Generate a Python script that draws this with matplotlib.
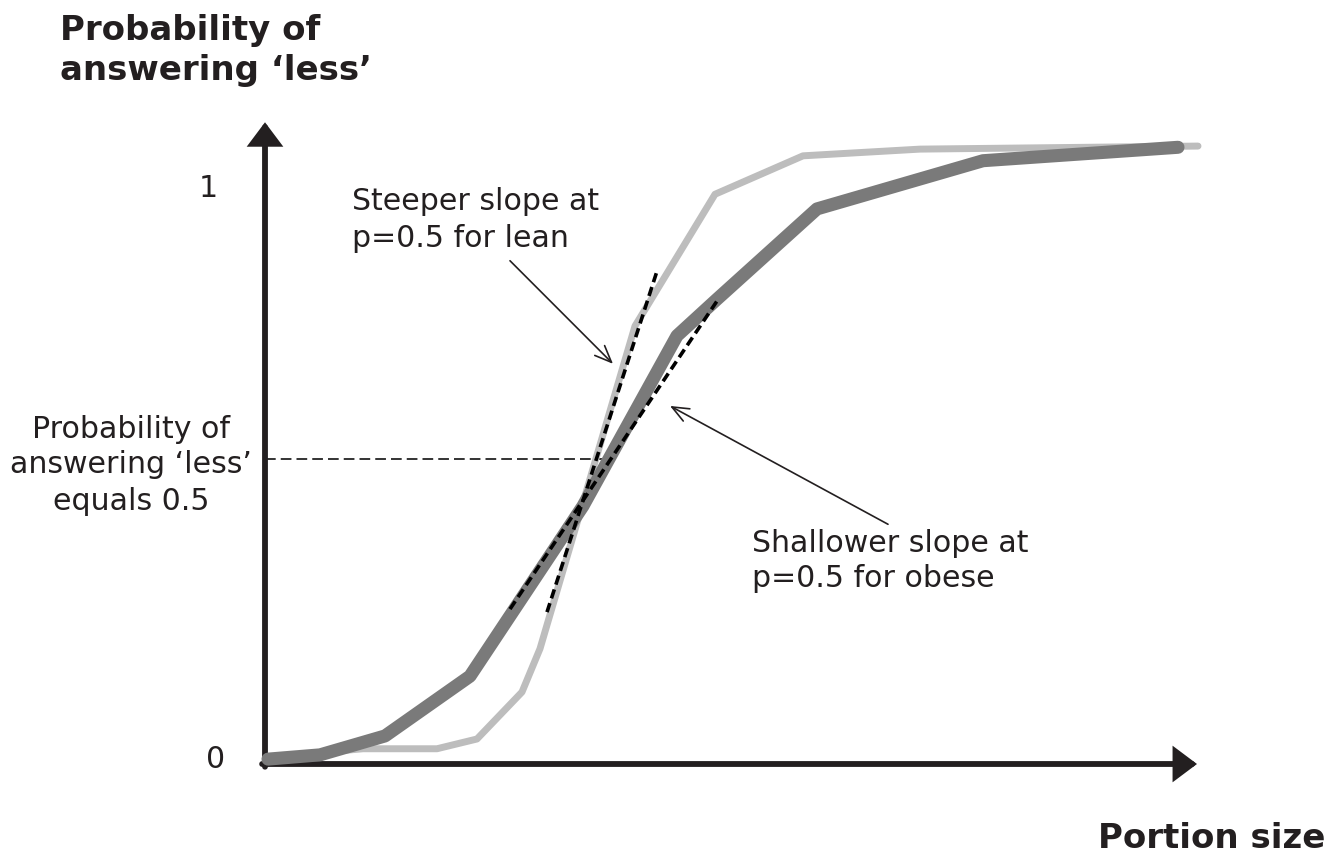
# 心理測定曲線の模式図 (lean / obese の傾きの比較)
import matplotlib.pyplot as plt

# ---- data (x = portion size in arbitrary units, y = probability) ----
LEAN_X = [0.03, 0.98, 1.72, 2.12, 2.57, 2.75, 3.70, 4.50, 5.38, 6.55, 9.33]
LEAN_Y = [0.011, 0.025, 0.025, 0.041, 0.118, 0.189, 0.718, 0.934, 0.997, 1.008, 1.013]

OBESE_X = [0.03, 0.55, 1.20, 2.05, 3.18, 4.12, 4.52, 5.52, 7.18, 9.13]
OBESE_Y = [0.008, 0.015, 0.046, 0.144, 0.423, 0.702, 0.762, 0.910, 0.989, 1.011]

# tangent lines at p=0.5
LEAN_TANGENT_X = [2.82, 3.92]
LEAN_TANGENT_Y = [0.249, 0.808]
OBESE_TANGENT_X = [2.45, 4.52]
OBESE_TANGENT_Y = [0.254, 0.759]

P_HALF = 0.5
P_HALF_X_END = 3.43
X_AXIS_END = 9.32
Y_AXIS_END = 1.052

AXIS_COLOR = '#231f20'
LEAN_COLOR = '#bdbdbd'
OBESE_COLOR = '#7a7a7a'
TEXT_COLOR = '#231f20'

REG = 21.6   # 通常テキストのサイズ
BOLD = 24.5  # 太字ラベルのサイズ


def DrawAxes(ax):
    head = '-|>,head_length=1.2,head_width=0.9'
    ax.annotate('', xy=(0, Y_AXIS_END), xytext=(0, -0.0045),
                arrowprops=dict(arrowstyle=head, mutation_scale=10, lw=4.2,
                                color=AXIS_COLOR, shrinkA=0, shrinkB=0,
                                joinstyle='miter'))
    ax.annotate('', xy=(X_AXIS_END, 0), xytext=(-0.029, 0),
                arrowprops=dict(arrowstyle=head, mutation_scale=10, lw=4.2,
                                color=AXIS_COLOR, shrinkA=0, shrinkB=0,
                                joinstyle='miter'))


def DrawCurves(ax):
    ax.plot(LEAN_X, LEAN_Y, color=LEAN_COLOR, lw=5.0,
            solid_capstyle='round', solid_joinstyle='round', zorder=2)
    ax.plot(OBESE_X, OBESE_Y, color=OBESE_COLOR, lw=9.4,
            solid_capstyle='round', solid_joinstyle='round', zorder=3)
    # 接線 (破線)
    ax.plot(LEAN_TANGENT_X, LEAN_TANGENT_Y, color='black', lw=2.6,
            dashes=(2.6, 1.4), zorder=4)
    ax.plot(OBESE_TANGENT_X, OBESE_TANGENT_Y, color='black', lw=2.6,
            dashes=(2.6, 1.4), zorder=4)
    # p = 0.5 の補助線
    ax.plot([0, P_HALF_X_END], [P_HALF, P_HALF], color='#333333', lw=1.4,
            dashes=(5.5, 2.6), zorder=1)


def DrawLabels(ax):
    ax.text(-2.05, 1.189, 'Probability of', fontsize=BOLD, fontweight='bold',
            color=TEXT_COLOR, va='baseline', ha='left')
    ax.text(-2.05, 1.123, 'answering \u2018less\u2019', fontsize=BOLD,
            fontweight='bold', color=TEXT_COLOR, va='baseline', ha='left')
    ax.text(8.33, -0.136, 'Portion size', fontsize=BOLD, fontweight='bold',
            color=TEXT_COLOR, va='baseline', ha='left')

    ax.text(-0.47, 0.931, '1', fontsize=REG, color=TEXT_COLOR,
            va='baseline', ha='right')
    ax.text(-0.40, -0.005, '0', fontsize=REG, color=TEXT_COLOR,
            va='baseline', ha='right')

    for y, s in zip([0.536, 0.479, 0.418],
                    ['Probability of', 'answering \u2018less\u2019', 'equals 0.5']):
        ax.text(-1.34, y, s, fontsize=REG, color=TEXT_COLOR,
                va='baseline', ha='center')

    ax.text(0.87, 0.910, 'Steeper slope at', fontsize=REG, color=TEXT_COLOR,
            va='baseline', ha='left')
    ax.text(0.87, 0.849, 'p=0.5 for lean', fontsize=REG, color=TEXT_COLOR,
            va='baseline', ha='left')
    ax.text(4.87, 0.349, 'Shallower slope at', fontsize=REG, color=TEXT_COLOR,
            va='baseline', ha='left')
    ax.text(4.87, 0.292, 'p=0.5 for obese', fontsize=REG, color=TEXT_COLOR,
            va='baseline', ha='left')

    # 説明用の矢印
    style = '->,head_length=0.6,head_width=0.25'
    ax.annotate('', xy=(3.48, 0.656), xytext=(2.45, 0.825),
                arrowprops=dict(arrowstyle=style, mutation_scale=20, lw=1.2,
                                color=TEXT_COLOR, shrinkA=0, shrinkB=0))
    ax.annotate('', xy=(4.05, 0.587), xytext=(6.23, 0.393),
                arrowprops=dict(arrowstyle=style, mutation_scale=20, lw=1.2,
                                color=TEXT_COLOR, shrinkA=0, shrinkB=0))


def main():
    fig = plt.figure(figsize=(13.44, 8.53), dpi=100)
    ax = fig.add_axes([0, 0, 1, 1])
    ax.set_xlim(-2.65, 10.79)
    ax.set_ylim(-88 / 610, 765 / 610)
    ax.axis('off')

    DrawAxes(ax)
    DrawCurves(ax)
    DrawLabels(ax)

    fig.savefig('out.png', dpi=100)


if __name__ == "__main__":
    main()
